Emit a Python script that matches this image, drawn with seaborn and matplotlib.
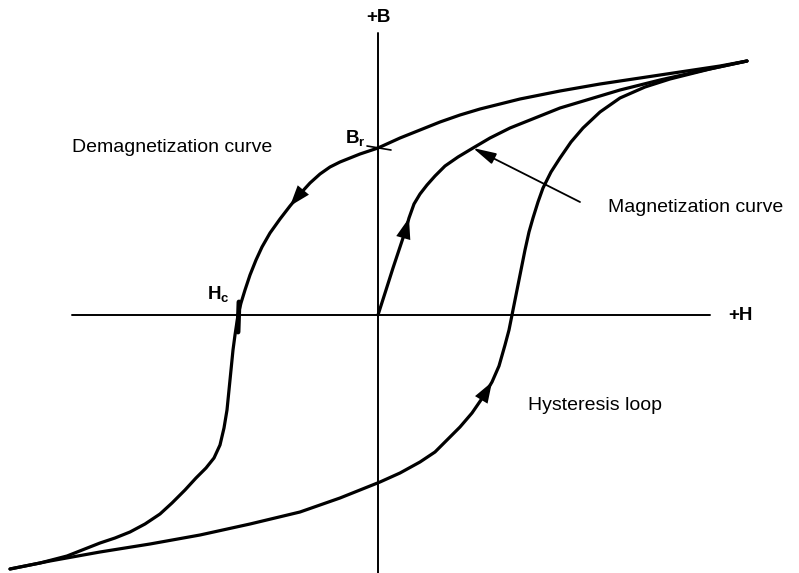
import matplotlib
matplotlib.use("Agg")
import matplotlib.pyplot as plt
import pandas as pd
import numpy as np
import seaborn as sns

sns.set_theme(style="white")
plt.rcParams["font.family"] = ["Liberation Sans", "DejaVu Sans"]
plt.rcParams["text.color"] = "black"
plt.rcParams["mathtext.fontset"] = "custom"
plt.rcParams["mathtext.rm"] = "Liberation Sans"
plt.rcParams["mathtext.bf"] = "Liberation Sans:bold"

# значення (H -> горизонталь, B -> вертикаль)
demag_H = [369, 342, 302, 262, 222, 182, 142, 122, 102, 82, 62, 42, 22, 0,
           -18, -28, -38, -48, -58, -68, -78, -88, -98, -108, -116, -122, -128, -133, -137, -140,
           -143, -145, -147, -149, -151, -154, -158, -164, -172, -182, -193, -206, -218,
           -233, -248, -263, -278, -311, -338, -368]
demag_B = [254, 249, 243, 237, 231, 224, 216, 211, 206, 200, 193, 185, 177, 167,
           161, 157, 153, 148, 141, 132, 121, 109, 96, 82, 68, 55, 40, 25, 12, 0,
           -20, -35, -55, -75, -95, -113, -130, -143, -153, -163, -175, -188, -199,
           -209, -217, -223, -228, -241, -248, -254]

lower_H = [-368, -328, -278, -228, -178, -128, -78, -38, 2, 22, 42, 57, 69, 82, 94,
           105, 114, 121, 127, 131, 134, 137, 140, 143, 147, 151, 155, 160, 165, 173,
           182, 193, 205, 222, 242, 267, 292, 332, 369]
lower_B = [-254, -246, -237, -229, -220, -209, -197, -183, -167, -158, -147, -137, -125, -112, -98,
           -82, -67, -51, -30, -15, 0, 15, 30, 45, 65, 83, 97, 113, 127, 143,
           157, 173, 187, 203, 217, 228, 236, 246, 254]

magn_H = [0, 8, 15, 22, 27, 31, 36, 42, 49, 57, 67, 80, 95, 112, 132, 152, 182,
          212, 242, 282, 322, 369]
magn_B = [0, 25, 47, 68, 83, 97, 111, 121, 130, 139, 149, 158, 167, 177, 187, 195, 207,
          216, 225, 235, 244, 254]

Br = 167
Hc = -140

demag = pd.DataFrame({"H": demag_H, "B": demag_B})
lower = pd.DataFrame({"H": lower_H, "B": lower_B})
magn = pd.DataFrame({"H": magn_H, "B": magn_B})

fig, ax = plt.subplots(figsize=(7.99, 5.73), dpi=100)
fig.subplots_adjust(left=0, right=1, bottom=0, top=1)
ax.set_xlim(-378, 421)
ax.set_ylim(-258, 315)
ax.axis("off")

# осі H та B
ax.plot([-306, 332], [0, 0], color="black", lw=1.4)
ax.plot([0, 0], [282, -258], color="black", lw=1.4)

for df in (demag, lower, magn):
    sns.lineplot(data=df, x="H", y="B", sort=False, estimator=None,
                 color="black", lw=2.3, ax=ax)

# стрілки напрямку на кривих
def head(df, i):
    ax.annotate("", xy=(df.H[i], df.B[i]), xytext=(df.H[i - 1], df.B[i - 1]),
                arrowprops=dict(arrowstyle="-|>,head_length=1.0,head_width=0.35",
                                color="black", lw=0, mutation_scale=15,
                                shrinkA=0, shrinkB=0))

head(demag, 21)
head(magn, 5)
head(lower, 16)

# позначки Br та Hc
ax.plot([-11, 13], [Br + 2, Br - 2], color="black", lw=1.2)
ax.plot([Hc + 1, Hc], [13, -17], color="black", lw=3.5)

ax.text(0, 298, "+B", ha="center", va="center", fontsize=13.5, fontweight="bold")
ax.text(362, 0, "+H", ha="center", va="center", fontsize=13.5, fontweight="bold")
ax.text(-23, 176, r"$\mathbf{B}_\mathbf{r}$", ha="center", va="center", fontsize=13.5)
ax.text(-160, 20, r"$\mathbf{H}_\mathbf{c}$", ha="center", va="center", fontsize=13.5)

ax.text(-306, 167, "Demagnetization curve", ha="left", va="center", fontsize=14)
ax.text(150, -90, "Hysteresis loop", ha="left", va="center", fontsize=14)
ax.text(230, 107, "Magnetization curve", ha="left", va="center", fontsize=14)
ax.annotate("", xy=(magn.H[12], magn.B[12]), xytext=(202, 113),
            arrowprops=dict(arrowstyle="-|>,head_length=1.0,head_width=0.25",
                            color="black", lw=1.3, mutation_scale=14,
                            shrinkA=0, shrinkB=0))

fig.savefig("out.png", dpi=100)
